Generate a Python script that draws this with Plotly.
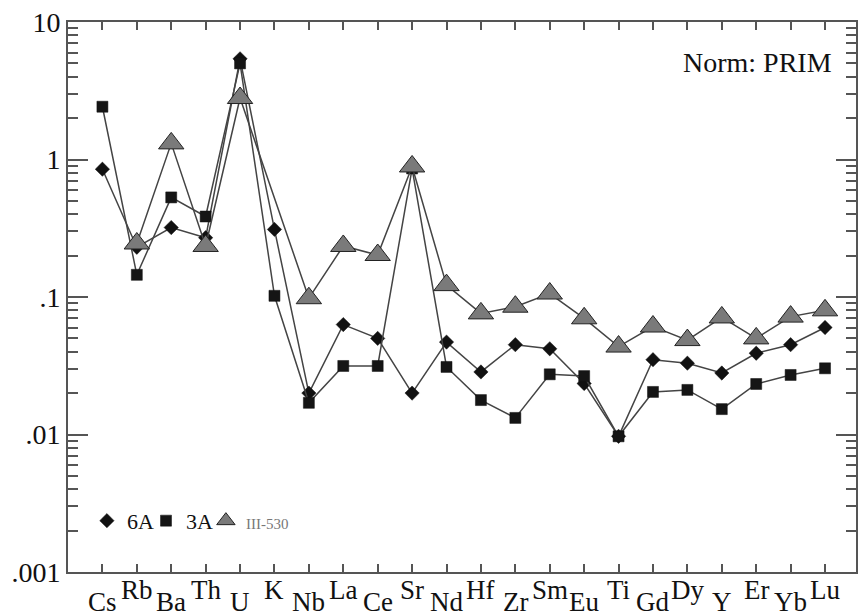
import plotly.graph_objects as go

elements = ["Cs", "Rb", "Ba", "Th", "U", "K", "Nb", "La", "Ce", "Sr", "Nd",
            "Hf", "Zr", "Sm", "Eu", "Ti", "Gd", "Dy", "Y", "Er", "Yb", "Lu"]

s6A = [0.85, 0.23, 0.32, 0.27, 5.4, 0.31, 0.020, 0.063, 0.050, 0.020, 0.047,
       0.0285, 0.045, 0.042, 0.0235, 0.0097, 0.035, 0.033, 0.028, 0.039, 0.045, 0.060]
s3A = [2.42, 0.145, 0.53, 0.385, 5.0, 0.102, 0.017, 0.0315, 0.0315, 0.86, 0.031,
       0.0178, 0.0132, 0.0274, 0.0266, 0.0097, 0.0204, 0.0211, 0.0153, 0.0233, 0.0271, 0.0303]
sIII = [None, 0.245, 1.31, 0.235, 2.8, None, 0.098, 0.235, 0.202, 0.89, 0.122,
        0.076, 0.085, 0.106, 0.070, 0.0436, 0.061, 0.0486, 0.071, 0.050, 0.072, 0.080]

y_major = [0.001, 0.01, 0.1, 1, 10]
y_major_text = [".001", ".01", ".1", "1", "10"]

xs = list(range(len(elements)))
line_col = "#444444"
axis_col = "#555555"
serif = "Liberation Serif, Times New Roman, serif"

series = [
    ("6A", s6A, "legend", dict(symbol="diamond", size=11, color="#111111",
                               line=dict(color="#111111", width=0.5))),
    ("3A", s3A, "legend2", dict(symbol="square", size=11, color="#151515",
                                line=dict(color="#111111", width=0.5))),
    ("<span style='font-size:15px;color:#777777'>III-530</span>", sIII, "legend3",
     dict(symbol="triangle-up", size=22, color="#7a7a7a",
          line=dict(color="#222222", width=1))),
]

fig = go.Figure()
for name, vals, lg, mk in series:
    fig.add_trace(go.Scatter(
        x=xs, y=vals, mode="lines", connectgaps=True, showlegend=False,
        line=dict(color=line_col, width=1.5), hoverinfo="skip"))
    fig.add_trace(go.Scatter(
        x=xs, y=vals, mode="markers", name=name, marker=mk, legend=lg))

minor_vals = [m * 10 ** e for e in range(-3, 1) for m in range(2, 10)]

legend_common = dict(orientation="h", yanchor="middle", xanchor="left", y=0.093,
                     font=dict(size=22, family=serif, color="#111111"),
                     bgcolor="rgba(0,0,0,0)", itemwidth=30, tracegroupgap=0,
                     itemsizing="trace")

fig.update_layout(
    width=859, height=616,
    margin=dict(l=68, r=1, t=22, b=44),
    paper_bgcolor="white", plot_bgcolor="white",
    font=dict(family=serif, color="#111111"),
    showlegend=True,
    legend=dict(x=0.024, **legend_common),
    legend2=dict(x=0.099, **legend_common),
    legend3=dict(x=0.175, **legend_common),
    xaxis=dict(range=[-1, 21.9], tickvals=xs, showticklabels=False,
               ticks="inside", ticklen=8, tickwidth=1.5, tickcolor=axis_col,
               showline=True, linecolor=axis_col, linewidth=2, mirror="allticks",
               showgrid=False, zeroline=False),
    yaxis=dict(type="log", range=[-3, 1], tickvals=y_major, ticktext=y_major_text,
               ticks="inside", ticklen=20, tickwidth=2, tickcolor=axis_col,
               tickfont=dict(size=28, family=serif, color="#111111"),
               showline=True, linecolor=axis_col, linewidth=2, mirror="allticks",
               showgrid=False, zeroline=False,
               minor=dict(tickvals=minor_vals, ticks="inside", ticklen=10,
                          tickwidth=2, tickcolor=axis_col, showgrid=False)),
)

for i, el in enumerate(elements):
    low = (i % 2 == 0)
    fig.add_annotation(x=i, y=0, xref="x", yref="paper", text=el, showarrow=False,
                       yanchor="middle", xanchor="center",
                       yshift=-30 if low else -18,
                       font=dict(size=27, family=serif, color="#111111"))

fig.add_annotation(x=0.972, y=0.926, xref="paper", yref="paper", text="Norm: PRIM",
                   showarrow=False, xanchor="right", yanchor="middle",
                   font=dict(size=28, family=serif, color="#111111"))

fig.write_html("out.html", config={"displayModeBar": False},
               post_script="document.body.style.margin='0';")
